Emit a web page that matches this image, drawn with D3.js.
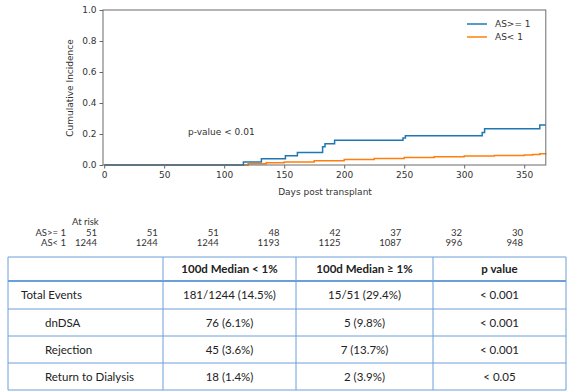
<!DOCTYPE html>
<html><head><meta charset="utf-8">
<script src="https://cdn.jsdelivr.net/npm/d3@7"></script>
<style>
body{margin:0;background:#fff;}
svg{display:block;}
</style></head>
<body>
<svg id="c" width="574" height="391"></svg>
<script>
// ---- data ----
const xTicks = [0, 50, 100, 150, 200, 250, 300, 350];
const yTicks = [0, 0.2, 0.4, 0.6, 0.8, 1.0];
const blueDays   = [0, 116, 131, 151, 161, 182, 184, 192, 249, 251, 315, 317, 363, 368];
const blueValues = [0, 0.02, 0.04, 0.06, 0.08, 0.118, 0.137, 0.16, 0.175, 0.189, 0.21, 0.234, 0.258, 0.258];
const orangeDays   = [0, 105, 120, 135, 150, 175, 200, 225, 250, 275, 300, 325, 350, 357, 363, 368];
const orangeValues = [0, 0, 0.008, 0.015, 0.02, 0.027, 0.035, 0.042, 0.048, 0.053, 0.058, 0.061, 0.064, 0.068, 0.073, 0.075];
const seriesNames = ["AS>= 1", "AS< 1"];
const atRiskHigh = [51, 51, 51, 48, 42, 37, 32, 30];
const atRiskLow  = [1244, 1244, 1244, 1193, 1125, 1087, 996, 948];
const tableHeader = ["", "100d Median < 1%", "100d Median \u2265 1%", "p value"];
const rowLabels = ["Total Events", "dnDSA", "Rejection", "Return to Dialysis"];
const colLow  = ["181/1244 (14.5%)", "76 (6.1%)", "45 (3.6%)", "18 (1.4%)"];
const colHigh = ["15/51 (29.4%)", "5 (9.8%)", "7 (13.7%)", "2 (3.9%)"];
const pValues = ["< 0.001", "< 0.001", "< 0.001", "< 0.05"];

const svg = d3.select("#c");
const colors = ["#1f77b4", "#ff7f0e"];
const axisFont = "DejaVu Sans";
const tFont = "Lato";
const txt = "#333";

// ---- chart ----
const x = d3.scaleLinear().domain([-1, 368]).range([103, 545.8]);
const y = d3.scaleLinear().domain([0, 1]).range([165, 10]);

const gx = svg.append("g").attr("transform", "translate(0,165)")
  .call(d3.axisBottom(x).tickValues(xTicks).tickSize(3.5).tickPadding(3).tickFormat(d3.format("d")));
const gy = svg.append("g").attr("transform", "translate(103,0)")
  .call(d3.axisLeft(y).tickValues(yTicks).tickSize(3.5).tickPadding(3).tickFormat(d3.format(".1f")));
[gx, gy].forEach(g => {
  g.select(".domain").remove();
  g.selectAll("line").attr("stroke", "#666");
  g.selectAll("text").attr("font-family", axisFont).attr("font-size", 9).attr("fill", txt);
});

const line = d3.line().x(d => x(d[0])).y(d => y(d[1])).curve(d3.curveStepAfter);
const series = [d3.zip(blueDays, blueValues), d3.zip(orangeDays, orangeValues)];
[1, 0].forEach(i => {
  svg.append("path").attr("d", line(series[i])).attr("fill", "none")
    .attr("stroke", colors[i]).attr("stroke-width", 1.5);
});

svg.append("rect").attr("x", 103).attr("y", 10).attr("width", 545.8 - 103).attr("height", 155)
  .attr("fill", "none").attr("stroke", "#6b6b6b").attr("stroke-width", 1);

svg.append("text").attr("transform", "translate(73,88) rotate(-90)")
  .attr("text-anchor", "middle").attr("font-family", axisFont).attr("font-size", 9).attr("fill", txt)
  .text("Cumulative Incidence");
svg.append("text").attr("x", 325).attr("y", 195)
  .attr("text-anchor", "middle").attr("font-family", axisFont).attr("font-size", 9).attr("fill", txt)
  .text("Days post transplant");
svg.append("text").attr("x", 188).attr("y", 134.5)
  .attr("font-family", axisFont).attr("font-size", 9).attr("fill", txt)
  .text("p-value < 0.01");

// legend
seriesNames.forEach((n, i) => {
  const ly = 24 + i * 13;
  svg.append("line").attr("x1", 467).attr("x2", 487).attr("y1", ly).attr("y2", ly)
    .attr("stroke", colors[i]).attr("stroke-width", 1.5);
  svg.append("text").attr("x", 495).attr("y", ly + 3.2)
    .attr("font-family", axisFont).attr("font-size", 9).attr("fill", txt).text(n);
});

// ---- at risk ----
const xr = d3.scaleLinear().domain([0, 350]).range([97, 523]);
const arFont = tFont;
svg.append("text").attr("x", 72).attr("y", 225).attr("font-family", arFont).attr("font-size", 9.5)
  .attr("fill", txt).text("At risk");
svg.append("text").attr("x", 66).attr("y", 235.5).attr("text-anchor", "end").attr("font-family", arFont)
  .attr("font-size", 9.5).attr("fill", txt).text(seriesNames[0]);
svg.append("text").attr("x", 66).attr("y", 246).attr("text-anchor", "end").attr("font-family", arFont)
  .attr("font-size", 9.5).attr("fill", txt).text(seriesNames[1]);
xTicks.forEach((t, i) => {
  svg.append("text").attr("x", xr(t)).attr("y", 235.5).attr("text-anchor", "end")
    .attr("font-family", arFont).attr("font-size", 9.5).attr("fill", txt).text(atRiskHigh[i]);
  svg.append("text").attr("x", xr(t)).attr("y", 246).attr("text-anchor", "end")
    .attr("font-family", arFont).attr("font-size", 9.5).attr("fill", txt).text(atRiskLow[i]);
});

// ---- table ----
const colEdges = [8, 163, 296, 433, 566];
const rowEdges = [257, 281, 309, 336, 363, 390];
const tblColor = "#6a9fd8";
const tg = svg.append("g");
colEdges.forEach(cx => tg.append("line").attr("x1", cx).attr("x2", cx).attr("y1", rowEdges[0]).attr("y2", rowEdges[5])
  .attr("stroke", tblColor).attr("stroke-width", 1));
rowEdges.forEach((ry, i) => tg.append("line").attr("x1", colEdges[0]).attr("x2", colEdges[4]).attr("y1", ry).attr("y2", ry)
  .attr("stroke", tblColor).attr("stroke-width", i === 1 ? 2 : 1));

tableHeader.forEach((h, j) => {
  if (!h) return;
  tg.append("text").attr("x", (colEdges[j] + colEdges[j + 1]) / 2).attr("y", (rowEdges[0] + rowEdges[1]) / 2 + 4)
    .attr("text-anchor", "middle").attr("font-family", tFont).attr("font-weight", "bold")
    .attr("font-size", 11.5).attr("fill", "#222").text(h);
});
rowLabels.forEach((r, i) => {
  const cy = (rowEdges[i + 1] + rowEdges[i + 2]) / 2 + 4;
  tg.append("text").attr("x", i === 0 ? 21 : 45).attr("y", cy).attr("font-family", tFont)
    .attr("font-size", 11.5).attr("fill", "#222").text(r);
  [colLow[i], colHigh[i], pValues[i]].forEach((v, j) => {
    tg.append("text").attr("x", (colEdges[j + 1] + colEdges[j + 2]) / 2).attr("y", cy)
      .attr("text-anchor", "middle").attr("font-family", tFont).attr("font-size", 11.5)
      .attr("fill", "#222").text(v);
  });
});
</script>
</body></html>
